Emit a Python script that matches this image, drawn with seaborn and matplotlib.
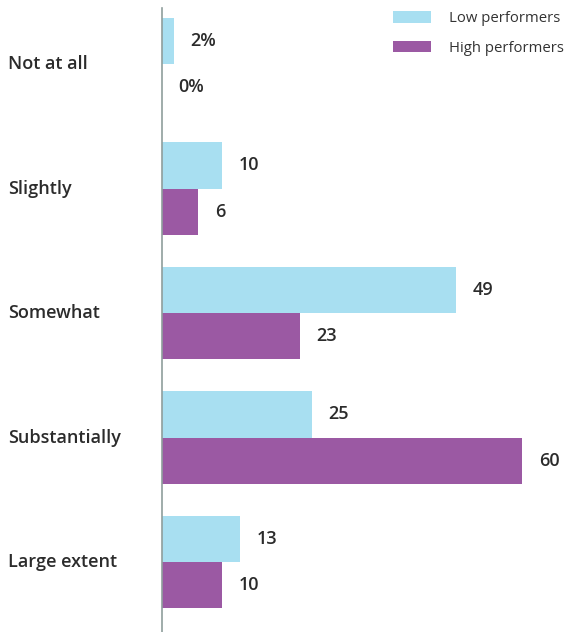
import matplotlib
matplotlib.use("Agg")
import matplotlib.pyplot as plt
import seaborn as sns
import pandas as pd
from matplotlib.patches import Patch
from matplotlib.transforms import blended_transform_factory

categories = ["Not at all", "Slightly", "Somewhat", "Substantially", "Large extent"]
low_performers = [2, 10, 49, 25, 13]
high_performers = [0, 6, 23, 60, 10]
series_names = ["Low performers", "High performers"]
low_labels = ["2%", "10", "49", "25", "13"]
high_labels = ["0%", "6", "23", "60", "10"]

colors = ["#A8DFF1", "#9B59A3"]
text_color = "#2B2B2B"

sns.set_theme(style="white")
plt.rcParams["font.family"] = ["Open Sans", "DejaVu Sans"]

df = pd.DataFrame({
    "category": categories * 2,
    "value": low_performers + high_performers,
    "series": [series_names[0]] * len(categories) + [series_names[1]] * len(categories),
})

fig = plt.figure(figsize=(5.68, 6.32), dpi=100)
ax = fig.add_axes([162 / 568, 0, 1 - 162 / 568, 624 / 632])

sns.barplot(data=df, y="category", x="value", hue="series", order=categories,
            hue_order=series_names, palette=colors, orient="h", width=0.74,
            saturation=1, ax=ax, legend=False, linewidth=0, edgecolor="none")

ax.set_xlim(0, (568 - 162) / 6.0)
ax.set_ylim(4.562, -0.45)

for cont, labs in zip(ax.containers, [low_labels, high_labels]):
    ax.bar_label(cont, labels=labs, padding=12, fontsize=13, fontweight="semibold",
                 color=text_color)

ax.set_xlabel("")
ax.set_ylabel("")
ax.set_xticks([])
ax.tick_params(axis="y", length=0, pad=0)
ax.set_yticklabels([])
trans = blended_transform_factory(fig.transFigure, ax.transData)
for i, c in enumerate(categories):
    ax.text(8 / 568, i, c, transform=trans, fontsize=13,
            fontweight="semibold", color=text_color, va="center", ha="left")

sns.despine(ax=ax, top=True, right=True, bottom=True, left=False)
ax.spines["left"].set_color("#8F9E9C")
ax.spines["left"].set_linewidth(1.2)

handles = [Patch(facecolor=colors[0], edgecolor="none"),
           Patch(facecolor=colors[1], edgecolor="none")]
fig.legend(handles, series_names, loc="upper left",
           bbox_to_anchor=(393 / 568, 1 - 11 / 632), frameon=False,
           fontsize=10.7, handlelength=2.55, handleheight=0.8, handletextpad=1.25,
           labelspacing=1.0, borderpad=0, borderaxespad=0, labelcolor="#333333")

fig.savefig("out.png", dpi=100)
